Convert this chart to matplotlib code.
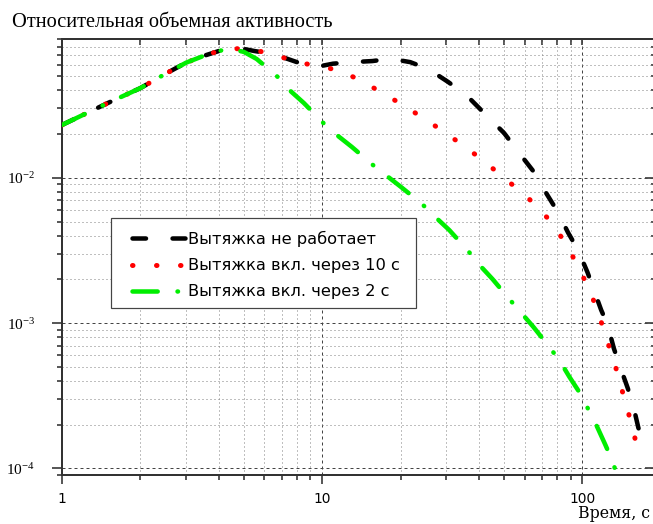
import matplotlib
matplotlib.use('Agg')
import matplotlib.pyplot as plt
from matplotlib.patches import Rectangle
from matplotlib.ticker import LogLocator, FixedLocator, FixedFormatter, NullFormatter

# ---------------- data ----------------
t_black = [1, 1.5, 2, 2.5, 3, 3.5, 4, 4.5, 5, 5.5, 6.5, 8, 9.2, 10, 11, 13, 15.6, 18.3,
           21.8, 25.6, 30.5, 36.1, 43, 50, 58, 65, 73, 80, 88, 96, 104.5, 110, 118,
           125, 132, 139, 149, 156, 164, 172]
v_black = [0.0231, 0.0327, 0.0414, 0.052, 0.062, 0.069, 0.0745, 0.0775, 0.077, 0.0745,
           0.071, 0.0625, 0.060, 0.059, 0.061, 0.0625, 0.0636, 0.066, 0.0625, 0.056,
           0.0456, 0.0365, 0.0266, 0.0203, 0.0143, 0.0110, 0.0077, 0.0059, 0.0042,
           0.0032, 0.00224, 0.00174, 0.00123, 0.00097, 0.00067, 0.00051, 0.00036,
           0.00028, 0.00019, 0.000152]

t_red = [1, 1.5, 2, 2.5, 3, 3.5, 4, 4.5, 5.24, 6.48, 7.94, 9.73, 11.9, 14.6, 17.9, 22.2,
         27.2, 33.4, 40.9, 50.1, 61.4, 74.7, 86, 96.5, 106, 115, 122.5, 131.6, 139,
         147.7, 155.7, 164]
v_red = [0.0231, 0.0327, 0.0414, 0.052, 0.062, 0.069, 0.0745, 0.0775, 0.0769, 0.071,
         0.0625, 0.0587, 0.0542, 0.0449, 0.0365, 0.0288, 0.0227, 0.0176, 0.01345,
         0.00995, 0.00736, 0.00512, 0.00356, 0.00243, 0.00171, 0.00119, 0.000815,
         0.000565, 0.000393, 0.000269, 0.000189, 0.000129]

t_green = [1, 1.5, 2, 2.5, 3, 3.5, 4, 4.4, 5, 5.6, 6.7, 7.5, 8.5, 10.2, 11.5, 13, 15.7,
           20.1, 24.2, 27.2, 30.8, 36.4, 40.2, 45.1, 52.4, 58.8, 64.8, 75.3, 82.3, 89.1,
           100, 106, 113, 122.5, 129.3, 136]
v_green = [0.0231, 0.0327, 0.0414, 0.052, 0.062, 0.069, 0.0745, 0.0775, 0.0735, 0.0657,
           0.050, 0.040, 0.0327, 0.0234, 0.0194, 0.0163, 0.0122, 0.00863, 0.00659,
           0.00537, 0.00436, 0.00313, 0.00251, 0.00201, 0.00146, 0.00115, 0.00094,
           0.00067, 0.00054, 0.000426, 0.00031, 0.000248, 0.000199, 0.000145,
           0.000116, 0.00009]

labels = ['Вытяжка не работает', 'Вытяжка вкл. через 10 с', 'Вытяжка вкл. через 2 с']
y_ticks = [1e-4, 1e-3, 1e-2]
y_ticklabels = [r'$\mathregular{10^{-4}}$', r'$\mathregular{10^{-3}}$', r'$\mathregular{10^{-2}}$']
x_ticks = [1, 10, 100]
x_ticklabels = ['1', '10', '100']
title = 'Относительная объемная активность'
xlabel = 'Время, с'

# ---------------- figure ----------------
W, H, DPI = 653, 524, 100
PT = 72.0 / DPI  # points per pixel
SERIF = ['Liberation Serif', 'DejaVu Serif']
WSERIF = ['DejaVu Serif']
SANS = ['DejaVu Sans']
plt.rcParams['font.family'] = SANS

fig = plt.figure(figsize=(W / DPI, H / DPI), dpi=DPI)
AX_L, AX_T, AX_R, AX_B = 62, 39, 655, 475
ax = fig.add_axes([AX_L / W, 1 - AX_B / H, (AX_R - AX_L) / W, (AX_B - AX_T) / H])
ax.set_xscale('log')
ax.set_yscale('log')
ax.set_xlim(1, 190)
ax.set_ylim(9.0e-5, 0.0902)


def ax_x(px):
    return (px - AX_L) / (AX_R - AX_L)


def ax_y(py):
    return (AX_B - py) / (AX_B - AX_T)


lwb = 4.5 * PT
ax.plot(t_black, v_black, color='black', lw=lwb, dashes=(3.0, 5.9),
        dash_capstyle='round', solid_capstyle='round', zorder=3, label=labels[0])
lwr = 5.0 * PT
ax.plot(t_red, v_red, color='#ff0000', lw=lwr, dashes=(0.1, 4.7),
        dash_capstyle='round', zorder=4, label=labels[1])
lwg = 4.5 * PT
ax.plot(t_green, v_green, color='#00ee00', lw=lwg, dashes=(5.6, 4.4, 0.11, 4.4),
        dash_capstyle='round', zorder=5, label=labels[2])

# grid
ax.grid(which='major', ls=(0, (3, 3)), color='#444444', lw=1 * PT, zorder=1)
ax.grid(which='minor', ls=(0, (1, 3)), color='#808080', lw=1 * PT, zorder=1)

# ticks
ax.xaxis.set_major_locator(FixedLocator(x_ticks))
ax.xaxis.set_major_formatter(FixedFormatter(x_ticklabels))
ax.xaxis.set_minor_locator(LogLocator(base=10, subs=range(2, 10), numticks=20))
ax.xaxis.set_minor_formatter(NullFormatter())
ax.yaxis.set_major_locator(FixedLocator(y_ticks))
ax.yaxis.set_major_formatter(FixedFormatter(y_ticklabels))
ax.yaxis.set_minor_locator(LogLocator(base=10, subs=range(2, 10), numticks=20))
ax.yaxis.set_minor_formatter(NullFormatter())

ax.tick_params(axis='x', which='major', direction='out', length=9 * PT, width=1.5 * PT,
               pad=8 * PT, labelsize=13.8 * PT, colors='#222222', labelcolor='black')
ax.tick_params(axis='x', which='minor', direction='out', length=5 * PT, width=1.5 * PT,
               colors='#222222')
ax.tick_params(axis='y', which='major', direction='out', length=10 * PT, width=1.5 * PT,
               pad=17 * PT, labelsize=11, colors='#222222', labelcolor='black')
ax.tick_params(axis='y', which='minor', direction='out', length=5 * PT, width=1.5 * PT,
               colors='#222222')
for lab in ax.get_yticklabels():
    lab.set_family(SERIF)
for lab in ax.get_xticklabels():
    lab.set_family(SANS)

for s in ax.spines.values():
    s.set_color('#333333')
    s.set_linewidth(2 * PT)

# top & right inward ticks
secx = ax.secondary_xaxis('top')
secx.xaxis.set_major_locator(FixedLocator(x_ticks))
secx.xaxis.set_minor_locator(LogLocator(base=10, subs=range(2, 10), numticks=20))
secx.xaxis.set_major_formatter(NullFormatter())
secx.xaxis.set_minor_formatter(NullFormatter())
secx.tick_params(which='both', direction='in', length=6 * PT, width=1.5 * PT, colors='#222222')
secx.spines['top'].set_color('#333333')
secx.spines['top'].set_linewidth(2 * PT)

secy = ax.secondary_yaxis('right')
secy.yaxis.set_major_locator(FixedLocator(y_ticks))
secy.yaxis.set_minor_locator(LogLocator(base=10, subs=range(2, 10), numticks=20))
secy.yaxis.set_major_formatter(NullFormatter())
secy.yaxis.set_minor_formatter(NullFormatter())
secy.tick_params(which='major', direction='in', length=10 * PT, width=1.5 * PT, colors='#222222')
secy.tick_params(which='minor', direction='in', length=4 * PT, width=1.5 * PT, colors='#222222')

# legend: frame drawn as a rectangle, entries placed without frame
box_l, box_t, box_r, box_b = 111, 218, 416, 308
ax.add_patch(Rectangle((ax_x(box_l), ax_y(box_b)), ax_x(box_r) - ax_x(box_l),
                       ax_y(box_t) - ax_y(box_b), transform=ax.transAxes,
                       facecolor='white', edgecolor='#444444', lw=1.2 * PT, zorder=9))
LEG_FS = 16.3 * PT
leg = ax.legend(loc='upper left', bbox_to_anchor=(ax_x(132), ax_y(231)),
                borderaxespad=0, prop={'family': SANS, 'size': LEG_FS},
                frameon=False, handlelength=3.25, handletextpad=0.18,
                borderpad=0, labelspacing=0.68)
leg.set_zorder(10)

fig.text(12 / W, 1 - 27 / H, title, family=SERIF, fontsize=20.4 * PT, va='baseline', ha='left')
fig.text(578 / W, 1 - 518 / H, xlabel, family=WSERIF, fontsize=15.8 * PT,
         va='baseline', ha='left')

fig.savefig('out.png', dpi=DPI)
